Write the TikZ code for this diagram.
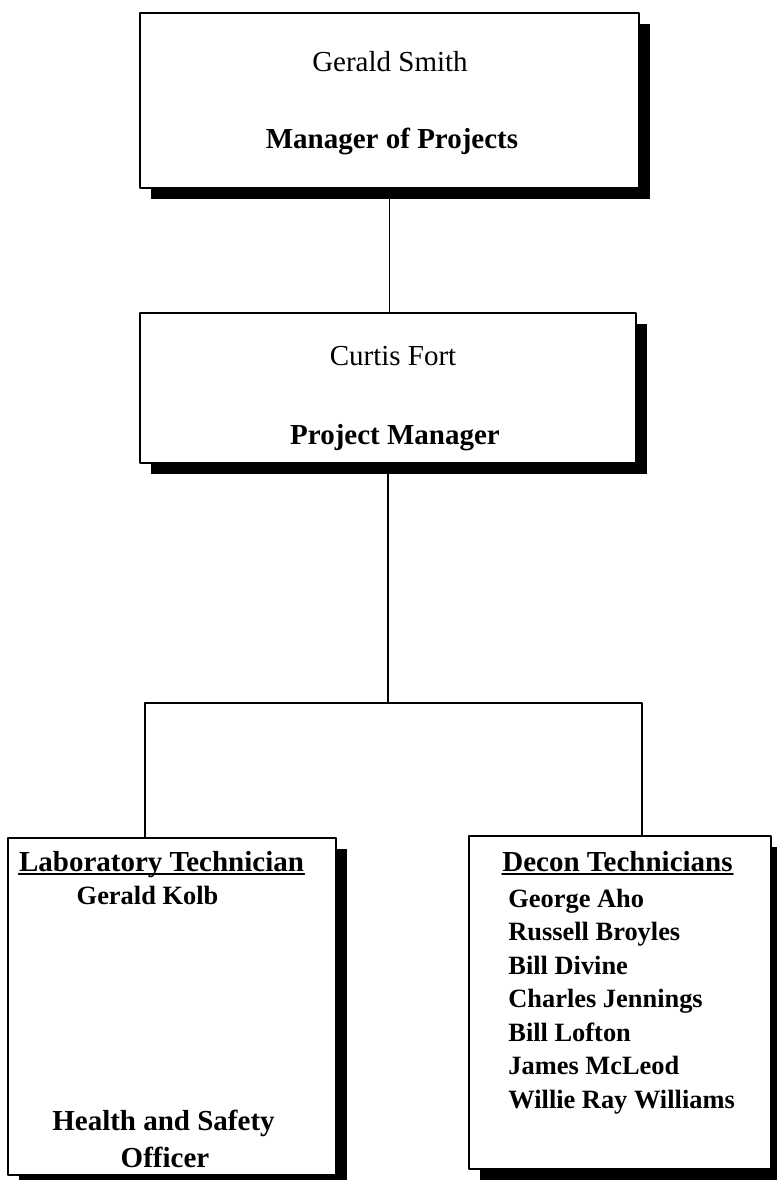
\documentclass[tikz,border=0pt]{standalone}
\usepackage{fontspec}
\setmainfont{Liberation Serif}
\usetikzlibrary{positioning,calc,shadows}

\begin{document}
\begin{tikzpicture}[x=0.5pt,y=-0.5pt,line cap=round,line join=round,
	orgbox/.style={draw,fill=white,line width=0.75pt,inner sep=0pt,
		drop shadow={shadow xshift=5.5pt,shadow yshift=-5.5pt,fill=black,opacity=1}},
	lbl/.style={font=\fontsize{14.5}{17}\selectfont,inner sep=0pt,anchor=base},
	lblb/.style={lbl,font=\fontsize{14.5}{17}\selectfont\bfseries},
	namelbl/.style={lbl,font=\fontsize{13.2}{16}\selectfont\bfseries},
	link/.style={line width=0.75pt}]
	
	% page
	\useasboundingbox (0,0) rectangle (777,1180);
	
	% sizes
	\def\rowH{33.5}  % row step in the decon list
	
	% boxes
	\node[orgbox,minimum width=249.5pt,minimum height=87.5pt] (smith) at (389.5,100.5) {};
	\node[orgbox,minimum width=248pt,minimum height=75pt] (fort) at (388,388) {};
	\node[orgbox,minimum width=164pt,minimum height=168.5pt] (lab) at (172,1006.5) {};
	\node[orgbox,minimum width=151pt,minimum height=166.5pt] (decon) at (620,1002.5) {};
	
	% top box text
	\node[lbl] (smithname) at (390,71) {Gerald Smith};
	\node[lblb] (smithrole) at (392,148) {Manager of Projects};
	
	% middle box text
	\node[lbl] (fortname) at (393,365) {Curtis Fort};
	\node[lblb] (fortrole) at (395,444) {Project Manager};
	
	% laboratory box text
	\node[lblb] (labhead) at (161.5,871) {Laboratory Technician};
	\node[namelbl] (labname) at (147.5,904) {Gerald Kolb};
	\node[lblb] (labrole1) at (163.5,1130) {Health and Safety};
	\node[lblb] (labrole2) at (165,1167) {Officer};
	
	% decon box text
	\node[lblb] (deconhead) at (617.5,871) {Decon Technicians};
	\foreach \who [count=\i from 0] in {George Aho, Russell Broyles, Bill Divine,
		Charles Jennings, Bill Lofton, James McLeod, Willie Ray Williams}{
		\node[namelbl,anchor=base west] (decon\i) at (508,{907+\rowH*\i}) {\who};
	}
	
	% underlines
	\draw[line width=0.8pt] ([yshift=-1.5pt]labhead.base west) -- ([yshift=-1.5pt]labhead.base east);
	\draw[line width=0.8pt] ([yshift=-1.5pt]deconhead.base west) -- ([yshift=-1.5pt]deconhead.base east);
	
	% connectors
	\coordinate (jl) at (145,703);
	\coordinate (jr) at (642,703);
	\draw[link] (smith.south) -- (smith.south |- fort.north);
	\draw[link] (fort.south) -- (fort.south |- jl);
	\draw[link] (jl |- lab.north) -- (jl) -- (jr) -- (jr |- decon.north);
	
\end{tikzpicture}
\end{document}
